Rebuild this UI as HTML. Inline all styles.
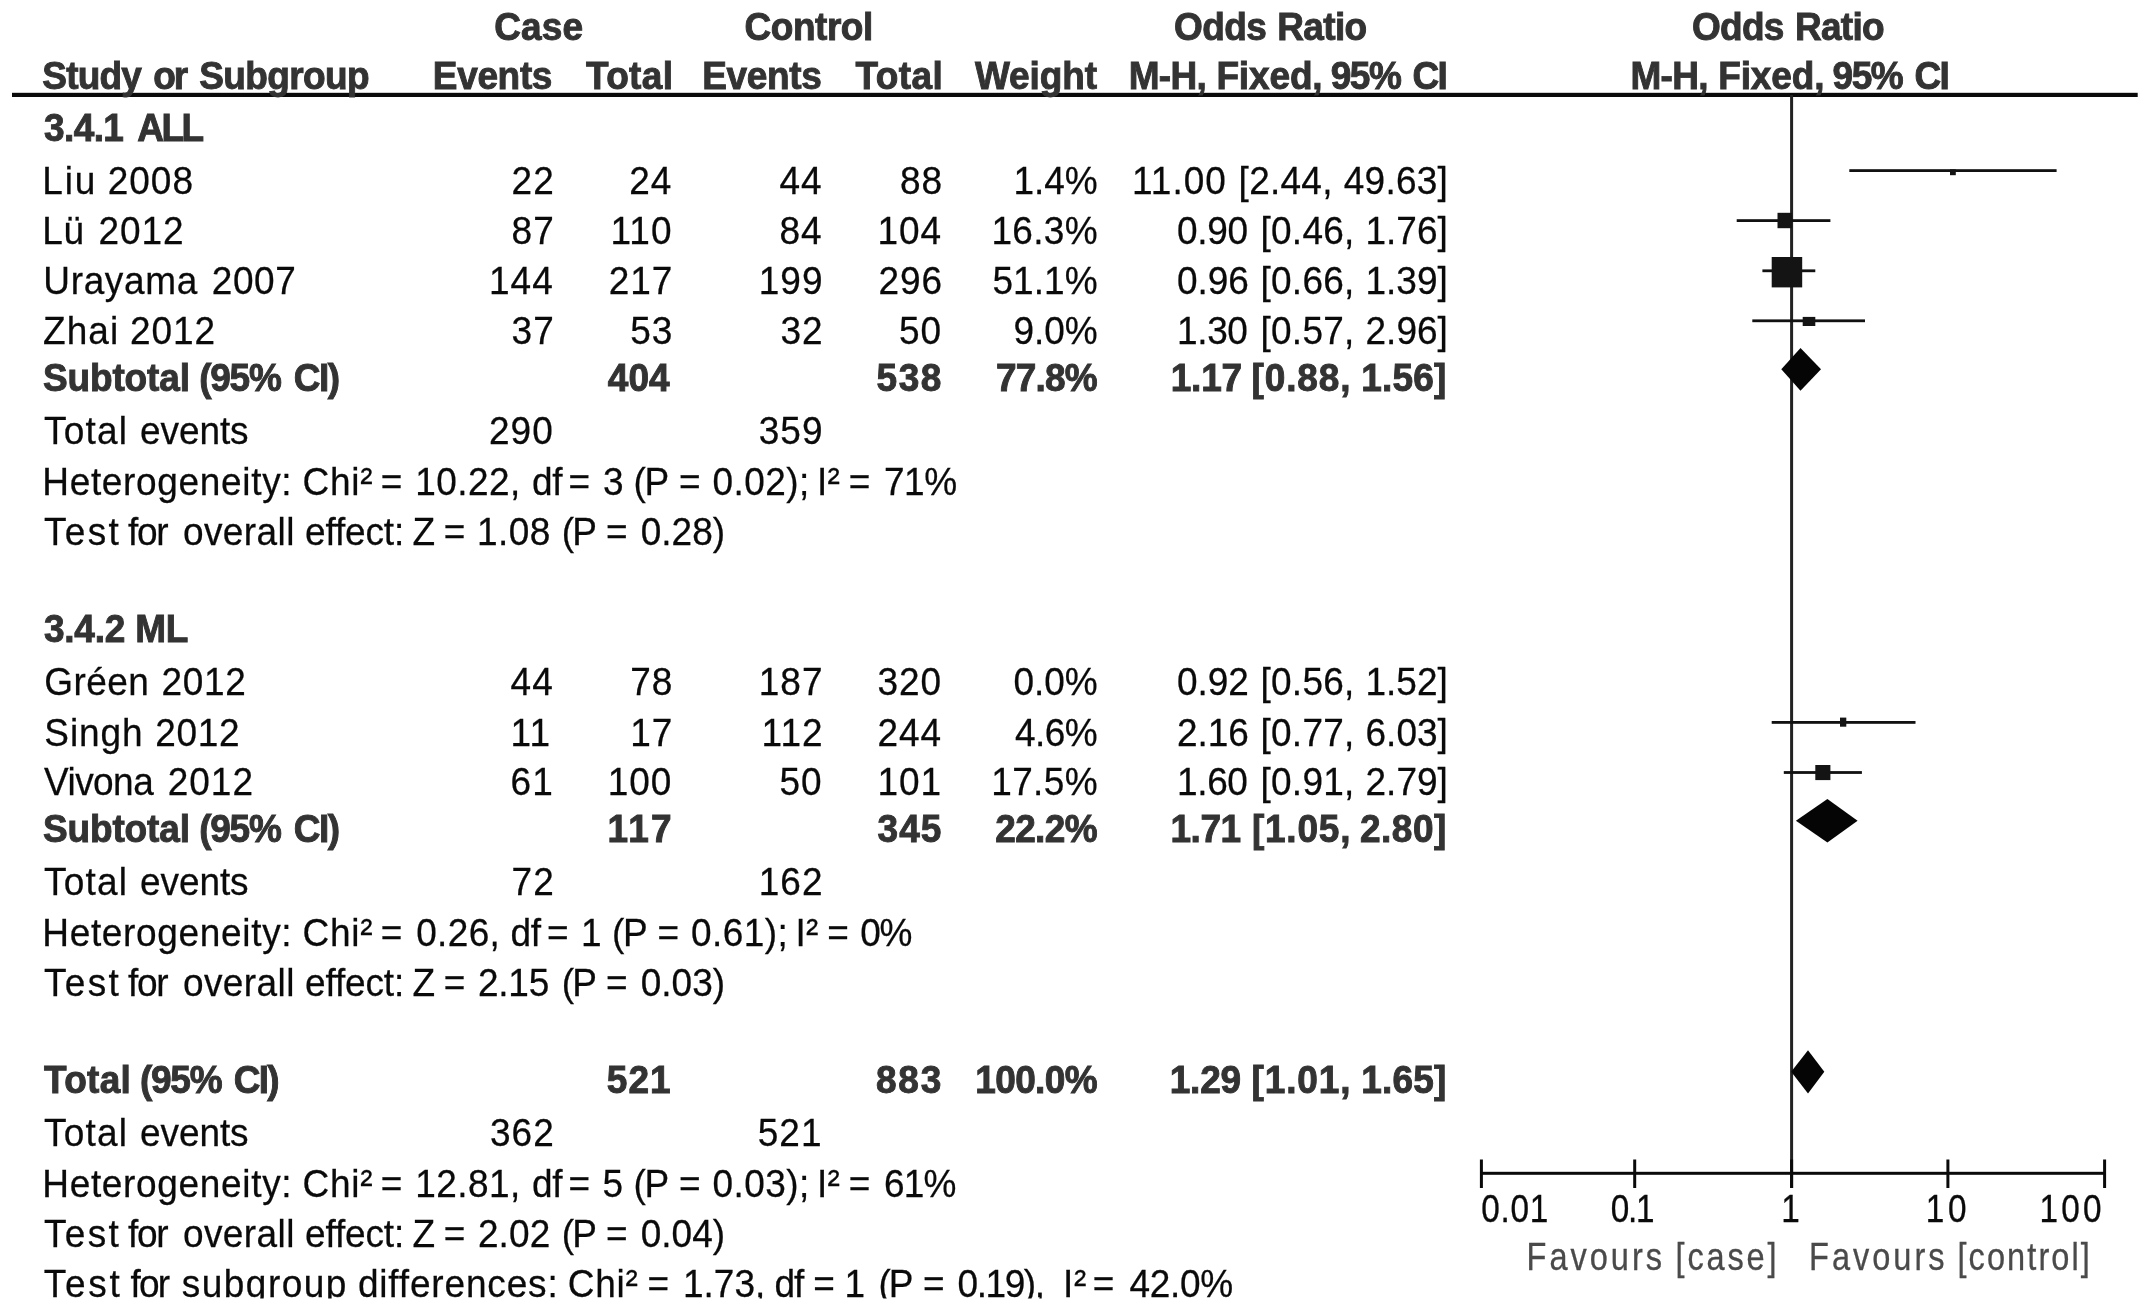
<!DOCTYPE html>
<html lang="en"><head><meta charset="utf-8"><title>Forest plot</title>
<style>
html,body{margin:0;padding:0;background:#fff;}
body{width:2150px;height:1310px;overflow:hidden;}
svg{display:block;filter:blur(0.45px);}
text{font-family:"Liberation Sans",Arial,sans-serif;font-size:37.0px;white-space:pre;}
</style></head><body>
<svg width="2150" height="1310" viewBox="0 0 2150 1310">
<rect width="2150" height="1310" fill="#fff"/>
<rect x="12" y="92.8" width="2125.7" height="4.2" fill="#0a0a0a"/>
<rect x="1790.1" y="95" width="3" height="1093" fill="#222"/>
<rect x="1480" y="1171.8" width="626" height="3" fill="#0a0a0a"/>
<rect x="1479.9" y="1159.5" width="3" height="28.5" fill="#0a0a0a"/>
<rect x="1633.2" y="1159.5" width="3" height="28.5" fill="#0a0a0a"/>
<rect x="1790.1" y="1159.5" width="3" height="28.5" fill="#0a0a0a"/>
<rect x="1946.4" y="1159.5" width="3" height="28.5" fill="#0a0a0a"/>
<rect x="2103.1" y="1159.5" width="3" height="28.5" fill="#0a0a0a"/>
<rect x="1849.3" y="169.2" width="207.3" height="2.8" fill="#111"/>
<rect x="1950.0" y="169.3" width="5.8" height="5.9" fill="#141414"/>
<rect x="1736.7" y="219.2" width="93.7" height="2.8" fill="#111"/>
<rect x="1777.5" y="212.8" width="14.4" height="15.4" fill="#141414"/>
<rect x="1762.4" y="269.4" width="52.9" height="2.8" fill="#111"/>
<rect x="1771.7" y="257.0" width="30.5" height="30.4" fill="#141414"/>
<rect x="1752.3" y="319.4" width="112.7" height="2.8" fill="#111"/>
<rect x="1802.7" y="316.9" width="12.6" height="9.1" fill="#141414"/>
<rect x="1771.7" y="721.0" width="143.8" height="2.8" fill="#111"/>
<rect x="1840.0" y="717.6" width="6.3" height="9.1" fill="#141414"/>
<rect x="1783.8" y="771.1" width="78.1" height="2.8" fill="#111"/>
<rect x="1815.3" y="765.0" width="15.1" height="15.1" fill="#141414"/>
<polygon points="1781.3,369.3 1800.5,347.9 1821.0,369.3 1800.5,390.7" fill="#050505"/>
<polygon points="1795.9,820.8 1827.4,799.0 1857.6,820.8 1827.4,842.6" fill="#050505"/>
<polygon points="1791.2,1071.8 1808.0,1050.2 1824.3,1071.8 1808.0,1093.4" fill="#050505"/>
<text transform="translate(494.2,39.8) scale(1.0,1.04)" fill="#333333" font-weight="bold" style="letter-spacing:0.17px;stroke:#333333;stroke-width:0.9px">Case</text>
<text transform="translate(744.6,39.8) scale(1.0,1.04)" fill="#333333" font-weight="bold" style="letter-spacing:-0.47px;stroke:#333333;stroke-width:0.9px">Control</text>
<text transform="translate(1174.0,39.8) scale(1.0,1.04)" fill="#333333" font-weight="bold" style="letter-spacing:-0.59px;stroke:#333333;stroke-width:0.9px">Odds</text>
<text transform="translate(1277.3,39.8) scale(1.0,1.04)" fill="#333333" font-weight="bold" style="letter-spacing:-0.67px;stroke:#333333;stroke-width:0.9px">Ratio</text>
<text transform="translate(1692.1,39.8) scale(1.0,1.04)" fill="#333333" font-weight="bold" style="letter-spacing:-0.76px;stroke:#333333;stroke-width:0.9px">Odds</text>
<text transform="translate(1794.9,39.8) scale(1.0,1.04)" fill="#333333" font-weight="bold" style="letter-spacing:-0.70px;stroke:#333333;stroke-width:0.9px">Ratio</text>
<text transform="translate(42.3,89.4) scale(1.0,1.04)" fill="#333333" font-weight="bold" style="letter-spacing:-0.80px;stroke:#333333;stroke-width:0.9px">Study</text>
<text transform="translate(153.2,89.4) scale(1.0,1.04)" fill="#333333" font-weight="bold" style="letter-spacing:-2.10px;stroke:#333333;stroke-width:0.9px">or</text>
<text transform="translate(199.3,89.4) scale(1.0,1.04)" fill="#333333" font-weight="bold" style="letter-spacing:-0.63px;stroke:#333333;stroke-width:0.9px">Subgroup</text>
<text transform="translate(432.8,89.4) scale(1.0,1.04)" fill="#333333" font-weight="bold" style="letter-spacing:-0.33px;stroke:#333333;stroke-width:0.9px">Events</text>
<text transform="translate(585.9,89.4) scale(1.0,1.04)" fill="#333333" font-weight="bold" style="letter-spacing:0.39px;stroke:#333333;stroke-width:0.9px">Total</text>
<text transform="translate(702.3,89.4) scale(1.0,1.04)" fill="#333333" font-weight="bold" style="letter-spacing:-0.37px;stroke:#333333;stroke-width:0.9px">Events</text>
<text transform="translate(855.6,89.4) scale(1.0,1.04)" fill="#333333" font-weight="bold" style="letter-spacing:0.41px;stroke:#333333;stroke-width:0.9px">Total</text>
<text transform="translate(975.0,89.4) scale(1.0,1.04)" fill="#333333" font-weight="bold" style="letter-spacing:-0.12px;stroke:#333333;stroke-width:0.9px">Weight</text>
<text transform="translate(1128.7,89.4) scale(1.0,1.04)" fill="#333333" font-weight="bold" style="letter-spacing:-0.69px;stroke:#333333;stroke-width:0.9px">M-H,</text>
<text transform="translate(1216.4,89.4) scale(1.0,1.04)" fill="#333333" font-weight="bold" style="letter-spacing:-0.13px;stroke:#333333;stroke-width:0.9px">Fixed,</text>
<text transform="translate(1330.7,89.4) scale(1.0,1.04)" fill="#333333" font-weight="bold" style="letter-spacing:-1.43px;stroke:#333333;stroke-width:0.9px">95%</text>
<text transform="translate(1412.6,89.4) scale(1.0,1.04)" fill="#333333" font-weight="bold" style="letter-spacing:-1.72px;stroke:#333333;stroke-width:0.9px">CI</text>
<text transform="translate(1630.5,89.4) scale(1.0,1.04)" fill="#333333" font-weight="bold" style="letter-spacing:-0.69px;stroke:#333333;stroke-width:0.9px">M-H,</text>
<text transform="translate(1718.2,89.4) scale(1.0,1.04)" fill="#333333" font-weight="bold" style="letter-spacing:-0.13px;stroke:#333333;stroke-width:0.9px">Fixed,</text>
<text transform="translate(1832.5,89.4) scale(1.0,1.04)" fill="#333333" font-weight="bold" style="letter-spacing:-1.43px;stroke:#333333;stroke-width:0.9px">95%</text>
<text transform="translate(1914.4,89.4) scale(1.0,1.04)" fill="#333333" font-weight="bold" style="letter-spacing:-1.72px;stroke:#333333;stroke-width:0.9px">CI</text>
<text transform="translate(42.3,194.0) scale(1.0,1.04)" fill="#0a0a0a" style="letter-spacing:1.80px;stroke:#0a0a0a;stroke-width:0.25px">Liu</text>
<text transform="translate(107.8,194.0) scale(1.0,1.04)" fill="#0a0a0a" style="letter-spacing:0.96px;stroke:#0a0a0a;stroke-width:0.25px">2008</text>
<text transform="translate(511.6,194.0) scale(1.0,1.04)" fill="#0a0a0a" style="letter-spacing:1.00px;stroke:#0a0a0a;stroke-width:0.25px">22</text>
<text transform="translate(629.3,194.0) scale(1.0,1.04)" fill="#0a0a0a" style="letter-spacing:1.00px;stroke:#0a0a0a;stroke-width:0.25px">24</text>
<text transform="translate(779.4,194.0) scale(1.0,1.04)" fill="#0a0a0a" style="letter-spacing:1.00px;stroke:#0a0a0a;stroke-width:0.25px">44</text>
<text transform="translate(900.0,194.0) scale(1.0,1.04)" fill="#0a0a0a" style="letter-spacing:1.00px;stroke:#0a0a0a;stroke-width:0.25px">88</text>
<text transform="translate(1013.4,194.0) scale(1.0,1.04)" fill="#0a0a0a" style="letter-spacing:-0.05px;stroke:#0a0a0a;stroke-width:0.25px">1.4%</text>
<text transform="translate(1132.0,194.0) scale(1.0,1.04)" fill="#0a0a0a" style="letter-spacing:1.03px;stroke:#0a0a0a;stroke-width:0.25px">11.00</text>
<text transform="translate(1238.6,194.0) scale(1.0,1.04)" fill="#0a0a0a" style="letter-spacing:0.26px;stroke:#0a0a0a;stroke-width:0.25px">[2.44,</text>
<text transform="translate(1343.8,194.0) scale(1.0,1.04)" fill="#0a0a0a" style="letter-spacing:0.24px;stroke:#0a0a0a;stroke-width:0.25px">49.63]</text>
<text transform="translate(42.3,243.8) scale(1.0,1.04)" fill="#0a0a0a" style="letter-spacing:0.72px;stroke:#0a0a0a;stroke-width:0.25px">Lü</text>
<text transform="translate(98.5,243.8) scale(1.0,1.04)" fill="#0a0a0a" style="letter-spacing:0.89px;stroke:#0a0a0a;stroke-width:0.25px">2012</text>
<text transform="translate(511.6,243.8) scale(1.0,1.04)" fill="#0a0a0a" style="letter-spacing:1.00px;stroke:#0a0a0a;stroke-width:0.25px">87</text>
<text transform="translate(610.5,243.8) scale(1.0,1.04)" fill="#0a0a0a" style="letter-spacing:1.00px;stroke:#0a0a0a;stroke-width:0.25px">110</text>
<text transform="translate(779.4,243.8) scale(1.0,1.04)" fill="#0a0a0a" style="letter-spacing:1.00px;stroke:#0a0a0a;stroke-width:0.25px">84</text>
<text transform="translate(877.4,243.8) scale(1.0,1.04)" fill="#0a0a0a" style="letter-spacing:1.00px;stroke:#0a0a0a;stroke-width:0.25px">104</text>
<text transform="translate(991.5,243.8) scale(1.0,1.04)" fill="#0a0a0a" style="letter-spacing:0.30px;stroke:#0a0a0a;stroke-width:0.25px">16.3%</text>
<text transform="translate(1177.1,243.8) scale(1.0,1.04)" fill="#0a0a0a" style="letter-spacing:-0.38px;stroke:#0a0a0a;stroke-width:0.25px">0.90</text>
<text transform="translate(1260.5,243.8) scale(1.0,1.04)" fill="#0a0a0a" style="letter-spacing:0.26px;stroke:#0a0a0a;stroke-width:0.25px">[0.46,</text>
<text transform="translate(1365.4,243.8) scale(1.0,1.04)" fill="#0a0a0a" style="letter-spacing:0.05px;stroke:#0a0a0a;stroke-width:0.25px">1.76]</text>
<text transform="translate(43.3,293.5) scale(1.0,1.04)" fill="#0a0a0a" style="letter-spacing:0.65px;stroke:#0a0a0a;stroke-width:0.25px">Urayama</text>
<text transform="translate(211.8,293.5) scale(1.0,1.04)" fill="#0a0a0a" style="letter-spacing:0.56px;stroke:#0a0a0a;stroke-width:0.25px">2007</text>
<text transform="translate(489.0,293.5) scale(1.0,1.04)" fill="#0a0a0a" style="letter-spacing:1.00px;stroke:#0a0a0a;stroke-width:0.25px">144</text>
<text transform="translate(608.7,293.5) scale(1.0,1.04)" fill="#0a0a0a" style="letter-spacing:1.00px;stroke:#0a0a0a;stroke-width:0.25px">217</text>
<text transform="translate(758.8,293.5) scale(1.0,1.04)" fill="#0a0a0a" style="letter-spacing:1.00px;stroke:#0a0a0a;stroke-width:0.25px">199</text>
<text transform="translate(878.4,293.5) scale(1.0,1.04)" fill="#0a0a0a" style="letter-spacing:1.00px;stroke:#0a0a0a;stroke-width:0.25px">296</text>
<text transform="translate(992.5,293.5) scale(1.0,1.04)" fill="#0a0a0a" style="letter-spacing:0.05px;stroke:#0a0a0a;stroke-width:0.25px">51.1%</text>
<text transform="translate(1177.1,293.5) scale(1.0,1.04)" fill="#0a0a0a" style="letter-spacing:-0.05px;stroke:#0a0a0a;stroke-width:0.25px">0.96</text>
<text transform="translate(1260.5,293.5) scale(1.0,1.04)" fill="#0a0a0a" style="letter-spacing:0.26px;stroke:#0a0a0a;stroke-width:0.25px">[0.66,</text>
<text transform="translate(1365.4,293.5) scale(1.0,1.04)" fill="#0a0a0a" style="letter-spacing:0.05px;stroke:#0a0a0a;stroke-width:0.25px">1.39]</text>
<text transform="translate(43.0,344.1) scale(1.0,1.04)" fill="#0a0a0a" style="letter-spacing:1.05px;stroke:#0a0a0a;stroke-width:0.25px">Zhai</text>
<text transform="translate(130.0,344.1) scale(1.0,1.04)" fill="#0a0a0a" style="letter-spacing:0.96px;stroke:#0a0a0a;stroke-width:0.25px">2012</text>
<text transform="translate(511.6,344.1) scale(1.0,1.04)" fill="#0a0a0a" style="letter-spacing:1.00px;stroke:#0a0a0a;stroke-width:0.25px">37</text>
<text transform="translate(630.3,344.1) scale(1.0,1.04)" fill="#0a0a0a" style="letter-spacing:1.00px;stroke:#0a0a0a;stroke-width:0.25px">53</text>
<text transform="translate(780.4,344.1) scale(1.0,1.04)" fill="#0a0a0a" style="letter-spacing:1.00px;stroke:#0a0a0a;stroke-width:0.25px">32</text>
<text transform="translate(899.0,344.1) scale(1.0,1.04)" fill="#0a0a0a" style="letter-spacing:1.00px;stroke:#0a0a0a;stroke-width:0.25px">50</text>
<text transform="translate(1013.6,344.1) scale(1.0,1.04)" fill="#0a0a0a" style="letter-spacing:-0.11px;stroke:#0a0a0a;stroke-width:0.25px">9.0%</text>
<text transform="translate(1177.0,344.1) scale(1.0,1.04)" fill="#0a0a0a" style="letter-spacing:-0.35px;stroke:#0a0a0a;stroke-width:0.25px">1.30</text>
<text transform="translate(1260.5,344.1) scale(1.0,1.04)" fill="#0a0a0a" style="letter-spacing:0.26px;stroke:#0a0a0a;stroke-width:0.25px">[0.57,</text>
<text transform="translate(1365.5,344.1) scale(1.0,1.04)" fill="#0a0a0a" style="letter-spacing:0.02px;stroke:#0a0a0a;stroke-width:0.25px">2.96]</text>
<text transform="translate(44.3,695.2) scale(1.0,1.04)" fill="#0a0a0a" style="letter-spacing:0.46px;stroke:#0a0a0a;stroke-width:0.25px">Gréen</text>
<text transform="translate(161.5,695.2) scale(1.0,1.04)" fill="#0a0a0a" style="letter-spacing:0.69px;stroke:#0a0a0a;stroke-width:0.25px">2012</text>
<text transform="translate(510.6,695.2) scale(1.0,1.04)" fill="#0a0a0a" style="letter-spacing:1.00px;stroke:#0a0a0a;stroke-width:0.25px">44</text>
<text transform="translate(630.3,695.2) scale(1.0,1.04)" fill="#0a0a0a" style="letter-spacing:1.00px;stroke:#0a0a0a;stroke-width:0.25px">78</text>
<text transform="translate(758.8,695.2) scale(1.0,1.04)" fill="#0a0a0a" style="letter-spacing:1.00px;stroke:#0a0a0a;stroke-width:0.25px">187</text>
<text transform="translate(877.4,695.2) scale(1.0,1.04)" fill="#0a0a0a" style="letter-spacing:1.00px;stroke:#0a0a0a;stroke-width:0.25px">320</text>
<text transform="translate(1013.6,695.2) scale(1.0,1.04)" fill="#0a0a0a" style="letter-spacing:-0.11px;stroke:#0a0a0a;stroke-width:0.25px">0.0%</text>
<text transform="translate(1177.1,695.2) scale(1.0,1.04)" fill="#0a0a0a" style="letter-spacing:-0.05px;stroke:#0a0a0a;stroke-width:0.25px">0.92</text>
<text transform="translate(1260.5,695.2) scale(1.0,1.04)" fill="#0a0a0a" style="letter-spacing:0.26px;stroke:#0a0a0a;stroke-width:0.25px">[0.56,</text>
<text transform="translate(1365.4,695.2) scale(1.0,1.04)" fill="#0a0a0a" style="letter-spacing:0.05px;stroke:#0a0a0a;stroke-width:0.25px">1.52]</text>
<text transform="translate(44.3,745.6) scale(1.0,1.04)" fill="#0a0a0a" style="letter-spacing:0.91px;stroke:#0a0a0a;stroke-width:0.25px">Singh</text>
<text transform="translate(155.2,745.6) scale(1.0,1.04)" fill="#0a0a0a" style="letter-spacing:0.69px;stroke:#0a0a0a;stroke-width:0.25px">2012</text>
<text transform="translate(510.6,745.6) scale(1.0,1.04)" fill="#0a0a0a" style="letter-spacing:1.00px;stroke:#0a0a0a;stroke-width:0.25px">11</text>
<text transform="translate(630.3,745.6) scale(1.0,1.04)" fill="#0a0a0a" style="letter-spacing:1.00px;stroke:#0a0a0a;stroke-width:0.25px">17</text>
<text transform="translate(761.6,745.6) scale(1.0,1.04)" fill="#0a0a0a" style="letter-spacing:1.00px;stroke:#0a0a0a;stroke-width:0.25px">112</text>
<text transform="translate(877.4,745.6) scale(1.0,1.04)" fill="#0a0a0a" style="letter-spacing:1.00px;stroke:#0a0a0a;stroke-width:0.25px">244</text>
<text transform="translate(1015.0,745.6) scale(1.0,1.04)" fill="#0a0a0a" style="letter-spacing:-0.58px;stroke:#0a0a0a;stroke-width:0.25px">4.6%</text>
<text transform="translate(1177.1,745.6) scale(1.0,1.04)" fill="#0a0a0a" style="letter-spacing:-0.05px;stroke:#0a0a0a;stroke-width:0.25px">2.16</text>
<text transform="translate(1260.5,745.6) scale(1.0,1.04)" fill="#0a0a0a" style="letter-spacing:0.26px;stroke:#0a0a0a;stroke-width:0.25px">[0.77,</text>
<text transform="translate(1365.5,745.6) scale(1.0,1.04)" fill="#0a0a0a" style="letter-spacing:0.02px;stroke:#0a0a0a;stroke-width:0.25px">6.03]</text>
<text transform="translate(44.0,795.2) scale(1.0,1.04)" fill="#0a0a0a" style="letter-spacing:-0.54px;stroke:#0a0a0a;stroke-width:0.25px">Vivona</text>
<text transform="translate(167.8,795.2) scale(1.0,1.04)" fill="#0a0a0a" style="letter-spacing:0.96px;stroke:#0a0a0a;stroke-width:0.25px">2012</text>
<text transform="translate(510.6,795.2) scale(1.0,1.04)" fill="#0a0a0a" style="letter-spacing:1.00px;stroke:#0a0a0a;stroke-width:0.25px">61</text>
<text transform="translate(607.7,795.2) scale(1.0,1.04)" fill="#0a0a0a" style="letter-spacing:1.00px;stroke:#0a0a0a;stroke-width:0.25px">100</text>
<text transform="translate(779.4,795.2) scale(1.0,1.04)" fill="#0a0a0a" style="letter-spacing:1.00px;stroke:#0a0a0a;stroke-width:0.25px">50</text>
<text transform="translate(877.4,795.2) scale(1.0,1.04)" fill="#0a0a0a" style="letter-spacing:1.00px;stroke:#0a0a0a;stroke-width:0.25px">101</text>
<text transform="translate(991.2,795.2) scale(1.0,1.04)" fill="#0a0a0a" style="letter-spacing:0.37px;stroke:#0a0a0a;stroke-width:0.25px">17.5%</text>
<text transform="translate(1177.0,795.2) scale(1.0,1.04)" fill="#0a0a0a" style="letter-spacing:-0.35px;stroke:#0a0a0a;stroke-width:0.25px">1.60</text>
<text transform="translate(1260.5,795.2) scale(1.0,1.04)" fill="#0a0a0a" style="letter-spacing:0.26px;stroke:#0a0a0a;stroke-width:0.25px">[0.91,</text>
<text transform="translate(1365.5,795.2) scale(1.0,1.04)" fill="#0a0a0a" style="letter-spacing:0.02px;stroke:#0a0a0a;stroke-width:0.25px">2.79]</text>
<text transform="translate(44.0,141.0) scale(1.0,1.04)" fill="#333333" font-weight="bold" style="letter-spacing:-0.58px;stroke:#333333;stroke-width:0.9px">3.4.1</text>
<text transform="translate(137.3,141.0) scale(1.0,1.04)" fill="#333333" font-weight="bold" style="letter-spacing:-2.56px;stroke:#333333;stroke-width:0.9px">ALL</text>
<text transform="translate(43.0,390.7) scale(1.0,1.04)" fill="#333333" font-weight="bold" style="letter-spacing:-0.14px;stroke:#333333;stroke-width:0.9px">Subtotal</text>
<text transform="translate(199.3,390.7) scale(1.0,1.04)" fill="#333333" font-weight="bold" style="letter-spacing:-1.29px;stroke:#333333;stroke-width:0.9px">(95%</text>
<text transform="translate(293.7,390.7) scale(1.0,1.04)" fill="#333333" font-weight="bold" style="letter-spacing:-1.45px;stroke:#333333;stroke-width:0.9px">CI)</text>
<text transform="translate(607.8,390.7) scale(1.0,1.04)" fill="#333333" font-weight="bold" style="letter-spacing:0.02px;stroke:#333333;stroke-width:0.9px">404</text>
<text transform="translate(876.6,390.7) scale(1.0,1.04)" fill="#333333" font-weight="bold" style="letter-spacing:1.47px;stroke:#333333;stroke-width:0.9px">538</text>
<text transform="translate(996.0,390.7) scale(1.0,1.04)" fill="#333333" font-weight="bold" style="letter-spacing:-0.83px;stroke:#333333;stroke-width:0.9px">77.8%</text>
<text transform="translate(1170.8,390.7) scale(1.0,1.04)" fill="#333333" font-weight="bold" style="letter-spacing:-0.25px;stroke:#333333;stroke-width:0.9px">1.17</text>
<text transform="translate(1251.6,390.7) scale(1.0,1.04)" fill="#333333" font-weight="bold" style="letter-spacing:0.85px;stroke:#333333;stroke-width:0.9px">[0.88,</text>
<text transform="translate(1361.2,390.7) scale(1.0,1.04)" fill="#333333" font-weight="bold" style="letter-spacing:0.20px;stroke:#333333;stroke-width:0.9px">1.56]</text>
<text transform="translate(44.0,642.3) scale(1.0,1.04)" fill="#333333" font-weight="bold" style="letter-spacing:-0.25px;stroke:#333333;stroke-width:0.9px">3.4.2</text>
<text transform="translate(135.3,642.3) scale(1.0,1.04)" fill="#333333" font-weight="bold" style="letter-spacing:-0.42px;stroke:#333333;stroke-width:0.9px">ML</text>
<text transform="translate(43.0,842.3) scale(1.0,1.04)" fill="#333333" font-weight="bold" style="letter-spacing:-0.14px;stroke:#333333;stroke-width:0.9px">Subtotal</text>
<text transform="translate(199.3,842.3) scale(1.0,1.04)" fill="#333333" font-weight="bold" style="letter-spacing:-1.29px;stroke:#333333;stroke-width:0.9px">(95%</text>
<text transform="translate(293.7,842.3) scale(1.0,1.04)" fill="#333333" font-weight="bold" style="letter-spacing:-1.45px;stroke:#333333;stroke-width:0.9px">CI)</text>
<text transform="translate(607.5,842.3) scale(1.0,1.04)" fill="#333333" font-weight="bold" style="letter-spacing:2.19px;stroke:#333333;stroke-width:0.9px">117</text>
<text transform="translate(877.6,842.3) scale(1.0,1.04)" fill="#333333" font-weight="bold" style="letter-spacing:0.97px;stroke:#333333;stroke-width:0.9px">345</text>
<text transform="translate(995.2,842.3) scale(1.0,1.04)" fill="#333333" font-weight="bold" style="letter-spacing:-0.63px;stroke:#333333;stroke-width:0.9px">22.2%</text>
<text transform="translate(1170.5,842.3) scale(1.0,1.04)" fill="#333333" font-weight="bold" style="letter-spacing:-0.48px;stroke:#333333;stroke-width:0.9px">1.71</text>
<text transform="translate(1251.9,842.3) scale(1.0,1.04)" fill="#333333" font-weight="bold" style="letter-spacing:0.79px;stroke:#333333;stroke-width:0.9px">[1.05,</text>
<text transform="translate(1360.0,842.3) scale(1.0,1.04)" fill="#333333" font-weight="bold" style="letter-spacing:0.50px;stroke:#333333;stroke-width:0.9px">2.80]</text>
<text transform="translate(44.0,1092.8) scale(1.0,1.04)" fill="#333333" font-weight="bold" style="letter-spacing:0.29px;stroke:#333333;stroke-width:0.9px">Total</text>
<text transform="translate(140.0,1092.8) scale(1.0,1.04)" fill="#333333" font-weight="bold" style="letter-spacing:-1.26px;stroke:#333333;stroke-width:0.9px">(95%</text>
<text transform="translate(233.8,1092.8) scale(1.0,1.04)" fill="#333333" font-weight="bold" style="letter-spacing:-1.75px;stroke:#333333;stroke-width:0.9px">CI)</text>
<text transform="translate(606.8,1092.8) scale(1.0,1.04)" fill="#333333" font-weight="bold" style="letter-spacing:1.02px;stroke:#333333;stroke-width:0.9px">521</text>
<text transform="translate(876.0,1092.8) scale(1.0,1.04)" fill="#333333" font-weight="bold" style="letter-spacing:1.77px;stroke:#333333;stroke-width:0.9px">883</text>
<text transform="translate(975.3,1092.8) scale(1.0,1.04)" fill="#333333" font-weight="bold" style="letter-spacing:-0.64px;stroke:#333333;stroke-width:0.9px">100.0%</text>
<text transform="translate(1169.7,1092.8) scale(1.0,1.04)" fill="#333333" font-weight="bold" style="letter-spacing:-0.21px;stroke:#333333;stroke-width:0.9px">1.29</text>
<text transform="translate(1251.6,1092.8) scale(1.0,1.04)" fill="#333333" font-weight="bold" style="letter-spacing:0.85px;stroke:#333333;stroke-width:0.9px">[1.01,</text>
<text transform="translate(1361.2,1092.8) scale(1.0,1.04)" fill="#333333" font-weight="bold" style="letter-spacing:0.20px;stroke:#333333;stroke-width:0.9px">1.65]</text>
<text transform="translate(44.0,444.3) scale(1.0,1.04)" fill="#0a0a0a" style="letter-spacing:1.19px;stroke:#0a0a0a;stroke-width:0.25px">Total</text>
<text transform="translate(140.0,444.3) scale(1.0,1.04)" fill="#0a0a0a" style="letter-spacing:-0.08px;stroke:#0a0a0a;stroke-width:0.25px">events</text>
<text transform="translate(489.0,444.3) scale(1.0,1.04)" fill="#0a0a0a" style="letter-spacing:1.00px;stroke:#0a0a0a;stroke-width:0.25px">290</text>
<text transform="translate(758.8,444.3) scale(1.0,1.04)" fill="#0a0a0a" style="letter-spacing:1.00px;stroke:#0a0a0a;stroke-width:0.25px">359</text>
<text transform="translate(44.0,895.2) scale(1.0,1.04)" fill="#0a0a0a" style="letter-spacing:1.19px;stroke:#0a0a0a;stroke-width:0.25px">Total</text>
<text transform="translate(140.0,895.2) scale(1.0,1.04)" fill="#0a0a0a" style="letter-spacing:-0.08px;stroke:#0a0a0a;stroke-width:0.25px">events</text>
<text transform="translate(511.6,895.2) scale(1.0,1.04)" fill="#0a0a0a" style="letter-spacing:1.00px;stroke:#0a0a0a;stroke-width:0.25px">72</text>
<text transform="translate(758.8,895.2) scale(1.0,1.04)" fill="#0a0a0a" style="letter-spacing:1.00px;stroke:#0a0a0a;stroke-width:0.25px">162</text>
<text transform="translate(44.0,1146.2) scale(1.0,1.04)" fill="#0a0a0a" style="letter-spacing:1.19px;stroke:#0a0a0a;stroke-width:0.25px">Total</text>
<text transform="translate(140.0,1146.2) scale(1.0,1.04)" fill="#0a0a0a" style="letter-spacing:-0.08px;stroke:#0a0a0a;stroke-width:0.25px">events</text>
<text transform="translate(490.0,1146.2) scale(1.0,1.04)" fill="#0a0a0a" style="letter-spacing:1.00px;stroke:#0a0a0a;stroke-width:0.25px">362</text>
<text transform="translate(757.8,1146.2) scale(1.0,1.04)" fill="#0a0a0a" style="letter-spacing:1.00px;stroke:#0a0a0a;stroke-width:0.25px">521</text>
<text transform="translate(42.3,494.5) scale(1.0,1.04)" fill="#0a0a0a" style="letter-spacing:0.67px;stroke:#0a0a0a;stroke-width:0.25px">Heterogeneity:</text>
<text transform="translate(302.5,494.5) scale(1.0,1.04)" fill="#0a0a0a" style="letter-spacing:0.76px;stroke:#0a0a0a;stroke-width:0.25px">Chi²</text>
<text transform="translate(380.8,494.5) scale(1.0,1.04)" fill="#0a0a0a" style="letter-spacing:0.00px;stroke:#0a0a0a;stroke-width:0.25px">=</text>
<text transform="translate(415.2,494.5) scale(1.0,1.04)" fill="#0a0a0a" style="letter-spacing:0.44px;stroke:#0a0a0a;stroke-width:0.25px">10.22,</text>
<text transform="translate(532.0,494.5) scale(1.0,1.04)" fill="#0a0a0a" style="letter-spacing:-0.38px;stroke:#0a0a0a;stroke-width:0.25px">df</text>
<text transform="translate(568.6,494.5) scale(1.0,1.04)" fill="#0a0a0a" style="letter-spacing:0.00px;stroke:#0a0a0a;stroke-width:0.25px">=</text>
<text transform="translate(602.9,494.5) scale(1.0,1.04)" fill="#0a0a0a" style="letter-spacing:0.00px;stroke:#0a0a0a;stroke-width:0.25px">3</text>
<text transform="translate(633.5,494.5) scale(1.0,1.04)" fill="#0a0a0a" style="letter-spacing:-1.32px;stroke:#0a0a0a;stroke-width:0.25px">(P</text>
<text transform="translate(678.9,494.5) scale(1.0,1.04)" fill="#0a0a0a" style="letter-spacing:0.00px;stroke:#0a0a0a;stroke-width:0.25px">=</text>
<text transform="translate(712.6,494.5) scale(1.0,1.04)" fill="#0a0a0a" style="letter-spacing:0.41px;stroke:#0a0a0a;stroke-width:0.25px">0.02);</text>
<text transform="translate(817.0,494.5) scale(1.0,1.04)" fill="#0a0a0a" style="letter-spacing:0.22px;stroke:#0a0a0a;stroke-width:0.25px">I²</text>
<text transform="translate(848.8,494.5) scale(1.0,1.04)" fill="#0a0a0a" style="letter-spacing:0.00px;stroke:#0a0a0a;stroke-width:0.25px">=</text>
<text transform="translate(883.9,494.5) scale(1.0,1.04)" fill="#0a0a0a" style="letter-spacing:-0.43px;stroke:#0a0a0a;stroke-width:0.25px">71%</text>
<text transform="translate(42.3,946.0) scale(1.0,1.04)" fill="#0a0a0a" style="letter-spacing:0.67px;stroke:#0a0a0a;stroke-width:0.25px">Heterogeneity:</text>
<text transform="translate(302.5,946.0) scale(1.0,1.04)" fill="#0a0a0a" style="letter-spacing:0.76px;stroke:#0a0a0a;stroke-width:0.25px">Chi²</text>
<text transform="translate(380.8,946.0) scale(1.0,1.04)" fill="#0a0a0a" style="letter-spacing:0.00px;stroke:#0a0a0a;stroke-width:0.25px">=</text>
<text transform="translate(416.2,946.0) scale(1.0,1.04)" fill="#0a0a0a" style="letter-spacing:0.35px;stroke:#0a0a0a;stroke-width:0.25px">0.26,</text>
<text transform="translate(510.5,946.0) scale(1.0,1.04)" fill="#0a0a0a" style="letter-spacing:-0.38px;stroke:#0a0a0a;stroke-width:0.25px">df</text>
<text transform="translate(547.1,946.0) scale(1.0,1.04)" fill="#0a0a0a" style="letter-spacing:0.00px;stroke:#0a0a0a;stroke-width:0.25px">=</text>
<text transform="translate(580.9,946.0) scale(1.0,1.04)" fill="#0a0a0a" style="letter-spacing:0.00px;stroke:#0a0a0a;stroke-width:0.25px">1</text>
<text transform="translate(612.0,946.0) scale(1.0,1.04)" fill="#0a0a0a" style="letter-spacing:-1.32px;stroke:#0a0a0a;stroke-width:0.25px">(P</text>
<text transform="translate(657.4,946.0) scale(1.0,1.04)" fill="#0a0a0a" style="letter-spacing:0.00px;stroke:#0a0a0a;stroke-width:0.25px">=</text>
<text transform="translate(691.1,946.0) scale(1.0,1.04)" fill="#0a0a0a" style="letter-spacing:0.41px;stroke:#0a0a0a;stroke-width:0.25px">0.61);</text>
<text transform="translate(795.5,946.0) scale(1.0,1.04)" fill="#0a0a0a" style="letter-spacing:0.22px;stroke:#0a0a0a;stroke-width:0.25px">I²</text>
<text transform="translate(827.3,946.0) scale(1.0,1.04)" fill="#0a0a0a" style="letter-spacing:0.00px;stroke:#0a0a0a;stroke-width:0.25px">=</text>
<text transform="translate(860.3,946.0) scale(1.0,1.04)" fill="#0a0a0a" style="letter-spacing:-1.28px;stroke:#0a0a0a;stroke-width:0.25px">0%</text>
<text transform="translate(42.3,1196.6) scale(1.0,1.04)" fill="#0a0a0a" style="letter-spacing:0.67px;stroke:#0a0a0a;stroke-width:0.25px">Heterogeneity:</text>
<text transform="translate(302.5,1196.6) scale(1.0,1.04)" fill="#0a0a0a" style="letter-spacing:0.76px;stroke:#0a0a0a;stroke-width:0.25px">Chi²</text>
<text transform="translate(380.8,1196.6) scale(1.0,1.04)" fill="#0a0a0a" style="letter-spacing:0.00px;stroke:#0a0a0a;stroke-width:0.25px">=</text>
<text transform="translate(415.2,1196.6) scale(1.0,1.04)" fill="#0a0a0a" style="letter-spacing:0.44px;stroke:#0a0a0a;stroke-width:0.25px">12.81,</text>
<text transform="translate(532.0,1196.6) scale(1.0,1.04)" fill="#0a0a0a" style="letter-spacing:-0.38px;stroke:#0a0a0a;stroke-width:0.25px">df</text>
<text transform="translate(568.6,1196.6) scale(1.0,1.04)" fill="#0a0a0a" style="letter-spacing:0.00px;stroke:#0a0a0a;stroke-width:0.25px">=</text>
<text transform="translate(602.4,1196.6) scale(1.0,1.04)" fill="#0a0a0a" style="letter-spacing:0.00px;stroke:#0a0a0a;stroke-width:0.25px">5</text>
<text transform="translate(633.5,1196.6) scale(1.0,1.04)" fill="#0a0a0a" style="letter-spacing:-1.32px;stroke:#0a0a0a;stroke-width:0.25px">(P</text>
<text transform="translate(678.9,1196.6) scale(1.0,1.04)" fill="#0a0a0a" style="letter-spacing:0.00px;stroke:#0a0a0a;stroke-width:0.25px">=</text>
<text transform="translate(712.6,1196.6) scale(1.0,1.04)" fill="#0a0a0a" style="letter-spacing:0.41px;stroke:#0a0a0a;stroke-width:0.25px">0.03);</text>
<text transform="translate(817.0,1196.6) scale(1.0,1.04)" fill="#0a0a0a" style="letter-spacing:0.22px;stroke:#0a0a0a;stroke-width:0.25px">I²</text>
<text transform="translate(848.8,1196.6) scale(1.0,1.04)" fill="#0a0a0a" style="letter-spacing:0.00px;stroke:#0a0a0a;stroke-width:0.25px">=</text>
<text transform="translate(883.9,1196.6) scale(1.0,1.04)" fill="#0a0a0a" style="letter-spacing:-0.73px;stroke:#0a0a0a;stroke-width:0.25px">61%</text>
<text transform="translate(44.1,544.8) scale(1.0,1.04)" fill="#0a0a0a" style="letter-spacing:2.27px;stroke:#0a0a0a;stroke-width:0.25px">Test</text>
<text transform="translate(128.0,544.8) scale(1.0,1.04)" fill="#0a0a0a" style="letter-spacing:-1.28px;stroke:#0a0a0a;stroke-width:0.25px">for</text>
<text transform="translate(182.9,544.8) scale(1.0,1.04)" fill="#0a0a0a" style="letter-spacing:0.42px;stroke:#0a0a0a;stroke-width:0.25px">overall</text>
<text transform="translate(305.0,544.8) scale(1.0,1.04)" fill="#0a0a0a" style="letter-spacing:-0.14px;stroke:#0a0a0a;stroke-width:0.25px">effect:</text>
<text transform="translate(412.6,544.8) scale(1.0,1.04)" fill="#0a0a0a" style="letter-spacing:0.00px;stroke:#0a0a0a;stroke-width:0.25px">Z</text>
<text transform="translate(443.8,544.8) scale(1.0,1.04)" fill="#0a0a0a" style="letter-spacing:0.00px;stroke:#0a0a0a;stroke-width:0.25px">=</text>
<text transform="translate(476.9,544.8) scale(1.0,1.04)" fill="#0a0a0a" style="letter-spacing:0.45px;stroke:#0a0a0a;stroke-width:0.25px">1.08</text>
<text transform="translate(561.8,544.8) scale(1.0,1.04)" fill="#0a0a0a" style="letter-spacing:-1.92px;stroke:#0a0a0a;stroke-width:0.25px">(P</text>
<text transform="translate(606.0,544.8) scale(1.0,1.04)" fill="#0a0a0a" style="letter-spacing:0.00px;stroke:#0a0a0a;stroke-width:0.25px">=</text>
<text transform="translate(640.7,544.8) scale(1.0,1.04)" fill="#0a0a0a" style="letter-spacing:0.02px;stroke:#0a0a0a;stroke-width:0.25px">0.28)</text>
<text transform="translate(44.1,996.4) scale(1.0,1.04)" fill="#0a0a0a" style="letter-spacing:2.27px;stroke:#0a0a0a;stroke-width:0.25px">Test</text>
<text transform="translate(128.0,996.4) scale(1.0,1.04)" fill="#0a0a0a" style="letter-spacing:-1.28px;stroke:#0a0a0a;stroke-width:0.25px">for</text>
<text transform="translate(182.9,996.4) scale(1.0,1.04)" fill="#0a0a0a" style="letter-spacing:0.42px;stroke:#0a0a0a;stroke-width:0.25px">overall</text>
<text transform="translate(305.0,996.4) scale(1.0,1.04)" fill="#0a0a0a" style="letter-spacing:-0.14px;stroke:#0a0a0a;stroke-width:0.25px">effect:</text>
<text transform="translate(412.6,996.4) scale(1.0,1.04)" fill="#0a0a0a" style="letter-spacing:0.00px;stroke:#0a0a0a;stroke-width:0.25px">Z</text>
<text transform="translate(443.8,996.4) scale(1.0,1.04)" fill="#0a0a0a" style="letter-spacing:0.00px;stroke:#0a0a0a;stroke-width:0.25px">=</text>
<text transform="translate(477.9,996.4) scale(1.0,1.04)" fill="#0a0a0a" style="letter-spacing:-0.21px;stroke:#0a0a0a;stroke-width:0.25px">2.15</text>
<text transform="translate(561.8,996.4) scale(1.0,1.04)" fill="#0a0a0a" style="letter-spacing:-1.92px;stroke:#0a0a0a;stroke-width:0.25px">(P</text>
<text transform="translate(606.0,996.4) scale(1.0,1.04)" fill="#0a0a0a" style="letter-spacing:0.00px;stroke:#0a0a0a;stroke-width:0.25px">=</text>
<text transform="translate(640.7,996.4) scale(1.0,1.04)" fill="#0a0a0a" style="letter-spacing:0.02px;stroke:#0a0a0a;stroke-width:0.25px">0.03)</text>
<text transform="translate(44.1,1246.5) scale(1.0,1.04)" fill="#0a0a0a" style="letter-spacing:2.27px;stroke:#0a0a0a;stroke-width:0.25px">Test</text>
<text transform="translate(128.0,1246.5) scale(1.0,1.04)" fill="#0a0a0a" style="letter-spacing:-1.28px;stroke:#0a0a0a;stroke-width:0.25px">for</text>
<text transform="translate(182.9,1246.5) scale(1.0,1.04)" fill="#0a0a0a" style="letter-spacing:0.42px;stroke:#0a0a0a;stroke-width:0.25px">overall</text>
<text transform="translate(305.0,1246.5) scale(1.0,1.04)" fill="#0a0a0a" style="letter-spacing:-0.14px;stroke:#0a0a0a;stroke-width:0.25px">effect:</text>
<text transform="translate(412.6,1246.5) scale(1.0,1.04)" fill="#0a0a0a" style="letter-spacing:0.00px;stroke:#0a0a0a;stroke-width:0.25px">Z</text>
<text transform="translate(443.8,1246.5) scale(1.0,1.04)" fill="#0a0a0a" style="letter-spacing:0.00px;stroke:#0a0a0a;stroke-width:0.25px">=</text>
<text transform="translate(477.9,1246.5) scale(1.0,1.04)" fill="#0a0a0a" style="letter-spacing:0.12px;stroke:#0a0a0a;stroke-width:0.25px">2.02</text>
<text transform="translate(561.8,1246.5) scale(1.0,1.04)" fill="#0a0a0a" style="letter-spacing:-1.92px;stroke:#0a0a0a;stroke-width:0.25px">(P</text>
<text transform="translate(606.0,1246.5) scale(1.0,1.04)" fill="#0a0a0a" style="letter-spacing:0.00px;stroke:#0a0a0a;stroke-width:0.25px">=</text>
<text transform="translate(640.7,1246.5) scale(1.0,1.04)" fill="#0a0a0a" style="letter-spacing:0.02px;stroke:#0a0a0a;stroke-width:0.25px">0.04)</text>
<text transform="translate(43.8,1296.9) scale(1.0,1.04)" fill="#0a0a0a" style="letter-spacing:2.71px;stroke:#0a0a0a;stroke-width:0.25px">Test</text>
<text transform="translate(130.5,1296.9) scale(1.0,1.04)" fill="#0a0a0a" style="letter-spacing:-1.83px;stroke:#0a0a0a;stroke-width:0.25px">for</text>
<text transform="translate(181.7,1296.9) scale(1.0,1.04)" fill="#0a0a0a" style="letter-spacing:1.50px;stroke:#0a0a0a;stroke-width:0.25px">subgroup</text>
<text transform="translate(357.9,1296.9) scale(1.0,1.04)" fill="#0a0a0a" style="letter-spacing:0.84px;stroke:#0a0a0a;stroke-width:0.25px">differences:</text>
<text transform="translate(567.7,1296.9) scale(1.0,1.04)" fill="#0a0a0a" style="letter-spacing:0.79px;stroke:#0a0a0a;stroke-width:0.25px">Chi²</text>
<text transform="translate(647.5,1296.9) scale(1.0,1.04)" fill="#0a0a0a" style="letter-spacing:0.00px;stroke:#0a0a0a;stroke-width:0.25px">=</text>
<text transform="translate(683.0,1296.9) scale(1.0,1.04)" fill="#0a0a0a" style="letter-spacing:-0.00px;stroke:#0a0a0a;stroke-width:0.25px">1.73,</text>
<text transform="translate(774.5,1296.9) scale(1.0,1.04)" fill="#0a0a0a" style="letter-spacing:-1.08px;stroke:#0a0a0a;stroke-width:0.25px">df</text>
<text transform="translate(813.2,1296.9) scale(1.0,1.04)" fill="#0a0a0a" style="letter-spacing:0.00px;stroke:#0a0a0a;stroke-width:0.25px">=</text>
<text transform="translate(844.5,1296.9) scale(1.0,1.04)" fill="#0a0a0a" style="letter-spacing:0.00px;stroke:#0a0a0a;stroke-width:0.25px">1</text>
<text transform="translate(878.6,1296.9) scale(1.0,1.04)" fill="#0a0a0a" style="letter-spacing:-2.22px;stroke:#0a0a0a;stroke-width:0.25px">(P</text>
<text transform="translate(923.1,1296.9) scale(1.0,1.04)" fill="#0a0a0a" style="letter-spacing:0.00px;stroke:#0a0a0a;stroke-width:0.25px">=</text>
<text transform="translate(957.6,1296.9) scale(1.0,1.04)" fill="#0a0a0a" style="letter-spacing:-1.45px;stroke:#0a0a0a;stroke-width:0.25px">0.19),</text>
<text transform="translate(1062.9,1296.9) scale(1.0,1.04)" fill="#0a0a0a" style="letter-spacing:0.82px;stroke:#0a0a0a;stroke-width:0.25px">I²</text>
<text transform="translate(1092.7,1296.9) scale(1.0,1.04)" fill="#0a0a0a" style="letter-spacing:0.00px;stroke:#0a0a0a;stroke-width:0.25px">=</text>
<text transform="translate(1129.4,1296.9) scale(1.0,1.04)" fill="#0a0a0a" style="letter-spacing:-0.30px;stroke:#0a0a0a;stroke-width:0.25px">42.0%</text>
<text transform="translate(1481.3,1222.3) scale(0.9,1.04)" fill="#0a0a0a" style="letter-spacing:0.78px;stroke:#0a0a0a;stroke-width:0.3px">0.01</text>
<text transform="translate(1610.7,1222.3) scale(0.9,1.04)" fill="#0a0a0a" style="letter-spacing:-1.43px;stroke:#0a0a0a;stroke-width:0.3px">0.1</text>
<text transform="translate(1781.3,1222.3) scale(0.9,1.04)" fill="#0a0a0a" style="letter-spacing:0.00px;stroke:#0a0a0a;stroke-width:0.3px">1</text>
<text transform="translate(1925.7,1222.3) scale(0.9,1.04)" fill="#0a0a0a" style="letter-spacing:4.20px;stroke:#0a0a0a;stroke-width:0.3px">10</text>
<text transform="translate(2039.4,1222.3) scale(0.9,1.04)" fill="#0a0a0a" style="letter-spacing:3.64px;stroke:#0a0a0a;stroke-width:0.3px">100</text>
<text transform="translate(1526.6,1269.5) scale(0.88,1.04)" fill="#4a4a4a" style="letter-spacing:3.38px;stroke:#4a4a4a;stroke-width:0.3px">Favours</text>
<text transform="translate(1675.6,1269.5) scale(0.88,1.04)" fill="#4a4a4a" style="letter-spacing:3.20px;stroke:#4a4a4a;stroke-width:0.3px">[case]</text>
<text transform="translate(1809.1,1269.5) scale(0.88,1.04)" fill="#4a4a4a" style="letter-spacing:3.38px;stroke:#4a4a4a;stroke-width:0.3px">Favours</text>
<text transform="translate(1957.4,1269.5) scale(0.88,1.04)" fill="#4a4a4a" style="letter-spacing:2.38px;stroke:#4a4a4a;stroke-width:0.3px">[control]</text>
<rect x="0" y="1298.5" width="2150" height="11.5" fill="#fff"/>
</svg>
</body></html>
